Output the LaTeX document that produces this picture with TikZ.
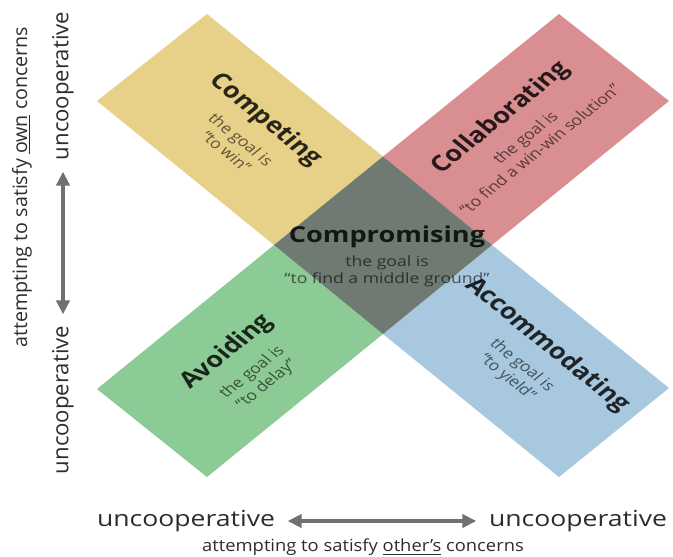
\documentclass[tikz,border=0pt]{standalone}
\usepackage{fontspec}
\setmainfont{Open Sans}
\usepackage{tikz}
\usetikzlibrary{arrows.meta}

\definecolor{competeyellow}{RGB}{231,208,136}
\definecolor{collabred}{RGB}{217,142,146}
\definecolor{avoidgreen}{RGB}{140,203,150}
\definecolor{accomblue}{RGB}{168,200,223}
\definecolor{comprogray}{RGB}{110,122,114}
\definecolor{arrowgray}{RGB}{112,112,112}
\definecolor{labelgray}{RGB}{45,45,45}

\tikzset{
	bandtitle/.style={font=\fontsize{12.5}{15}\selectfont\bfseries, text=black, text opacity=0.82, inner sep=0pt, outer ysep=6pt, xscale=1.235},
	bandgoal/.style={font=\fontsize{8.1}{9.6}\selectfont, align=center, text=black, text opacity=0.6, inner sep=0pt, anchor=north, xscale=1.235},
	axislabel/.style={font=\fontsize{12.6}{15}\selectfont, text=labelgray},
	axisarrow/.style={draw=arrowgray, line width=2.8pt, shorten <=3pt, shorten >=3pt, {Triangle[length=8pt,width=7.5pt]}-{Triangle[length=8pt,width=7.5pt]}},
}

\begin{document}
\begin{tikzpicture}[x=0.02cm, y=-0.02cm]
		%%%%% START %%%%%
		\useasboundingbox (0, 0) rectangle (673, 556);
		
		% band from top left to bottom right
		\coordinate (a1) at (97, 101);
		\coordinate (a2) at (207, 14);
		\coordinate (a3) at (669, 388);
		\coordinate (a4) at (559, 477);
		% band from bottom left to top right
		\coordinate (b1) at (97, 389);
		\coordinate (b2) at (207, 477);
		\coordinate (b3) at (669, 101);
		\coordinate (b4) at (559, 14);
		% where they overlap
		\coordinate (mtop) at (383, 156.5);
		\coordinate (mbottom) at (383, 334);
		\coordinate (mleft) at (274, 245);
		\coordinate (mright) at (492, 245);
		
		\fill[competeyellow] (a1) -- (a2) -- (mtop) -- (mleft) -- cycle;
		\fill[collabred] (mtop) -- (b4) -- (b3) -- (mright) -- cycle;
		\fill[accomblue] (mright) -- (a3) -- (a4) -- (mbottom) -- cycle;
		\fill[avoidgreen] (mleft) -- (mbottom) -- (b2) -- (b1) -- cycle;
		\fill[comprogray] (mtop) -- (mright) -- (mbottom) -- (mleft) -- cycle;
		
		\node[bandtitle, rotate=-45] (competing) at (265, 120) {Competing};
		\node[bandgoal, rotate=-45] (competinggoal) at (competing.south) {the goal is\\“to win”};
		
		\node[bandtitle, rotate=45] (collaborating) at (501, 118) {Collaborating};
		\node[bandgoal, rotate=45] (collaboratinggoal) at (collaborating.south) {the goal is\\“to find a win-win solution”};
		
		\node[bandtitle, rotate=-45] (accommodating) at (547, 345) {Accommodating};
		\node[bandgoal, rotate=-45] (accommodatinggoal) at (accommodating.south) {the goal is\\“to yield”};
		
		\node[bandtitle, rotate=45] (avoiding) at (227, 352) {Avoiding};
		\node[bandgoal, rotate=45] (avoidinggoal) at (avoiding.south) {the goal is\\“to delay”};
		
		\node[bandtitle, outer ysep=4pt] (compromising) at (387, 237) {Compromising};
		\node[bandgoal] (compromisinggoal) at (compromising.south) {the goal is\\“to find a middle ground”};
		
		% vertical axis
		\node[axislabel, rotate=90] (ytop) at (63, 86) {uncooperative};
		\node[axislabel, rotate=90] (ybottom) at (63, 400) {uncooperative};
		\draw[axisarrow] (ytop) -- (ybottom);
		\node[font=\fontsize{11.2}{13}\selectfont, text=labelgray, rotate=90] (yaxis) at (22, 187) {attempting to satisfy \underline{own} concerns};
		
		% horizontal axis
		\node[axislabel, xscale=1.2] (xleft) at (186, 521) {uncooperative};
		\node[axislabel, xscale=1.2] (xright) at (578, 521) {uncooperative};
		\draw[axisarrow] (xleft) -- (xright);
		\node[font=\fontsize{9.5}{11}\selectfont, text=labelgray, xscale=1.1] (xaxis) at (363, 547) {attempting to satisfy \underline{other’s} concerns};
		
		%%%%% END %%%%%
	\end{tikzpicture}
\end{document}
